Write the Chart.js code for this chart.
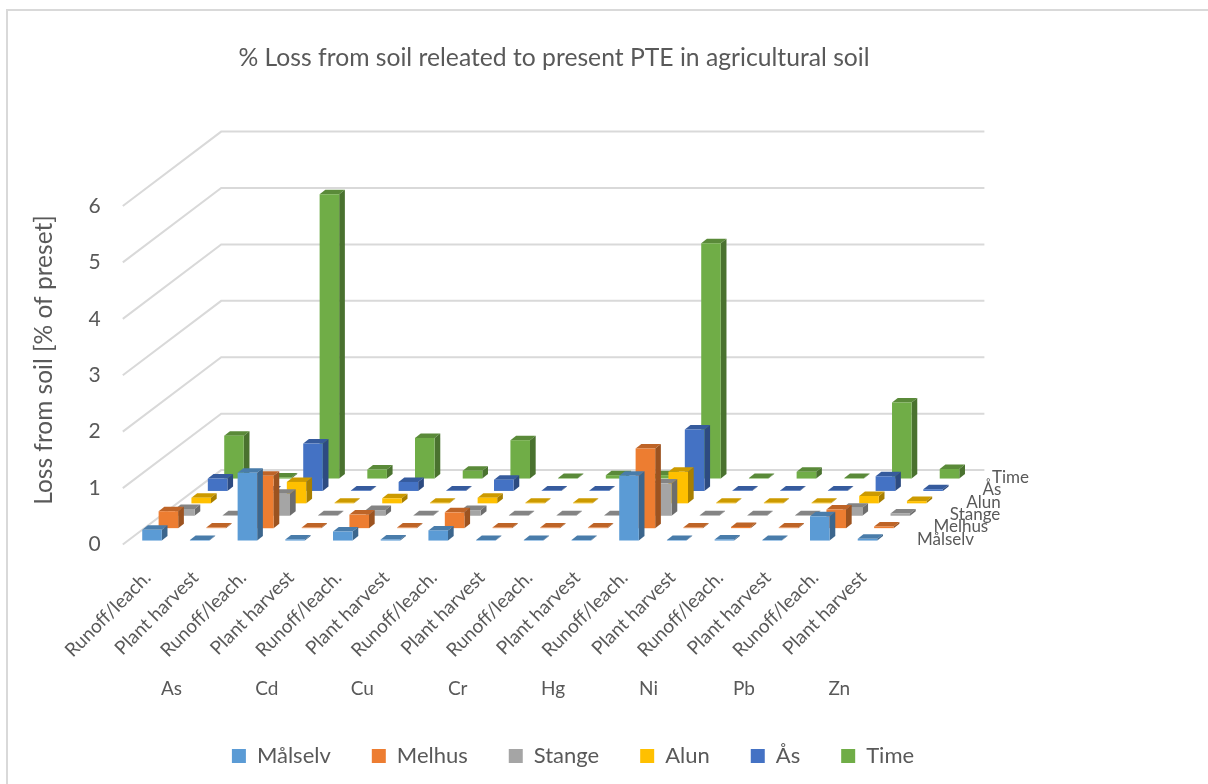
<!DOCTYPE html>
<html>
<head>
<meta charset="utf-8">
<title>Loss from soil</title>
<script src="https://cdn.jsdelivr.net/npm/chart.js@4"></script>
<style>
  html, body { margin: 0; background: #fff; }
  canvas { display: block; }
</style>
</head>
<body>
<canvas id="chart" width="1208" height="784"></canvas>
<script>
"use strict";

const categories = [
  "Runoff/leach.", "Plant harvest", "Runoff/leach.", "Plant harvest",
  "Runoff/leach.", "Plant harvest", "Runoff/leach.", "Plant harvest",
  "Runoff/leach.", "Plant harvest", "Runoff/leach.", "Plant harvest",
  "Runoff/leach.", "Plant harvest", "Runoff/leach.", "Plant harvest",
];
const elements = ["As", "Cd", "Cu", "Cr", "Hg", "Ni", "Pb", "Zn"];
const seriesNames = ["Målselv", "Melhus", "Stange", "Alun", "Ås", "Time"];
const seriesColors = ["#5B9BD5", "#ED7D31", "#A5A5A5", "#FFC000", "#4472C4", "#70AD47"];

const malselv = [0.19, 0.01, 1.2, 0.02, 0.16, 0.02, 0.18, 0.01, 0.01, 0.01, 1.15, 0.01, 0.02, 0.01, 0.43, 0.03];
const melhus = [0.3, 0.01, 0.93, 0.01, 0.24, 0.01, 0.28, 0.01, 0.01, 0.01, 1.41, 0.01, 0.02, 0.01, 0.33, 0.03];
const stange = [0.12, 0.01, 0.39, 0.01, 0.1, 0.01, 0.1, 0.01, 0.01, 0.01, 0.57, 0.01, 0.01, 0.01, 0.14, 0.04];
const alun = [0.1, 0.01, 0.38, 0.01, 0.09, 0.01, 0.1, 0.01, 0.01, 0.01, 0.56, 0.01, 0.01, 0.01, 0.13, 0.04];
const aas = [0.22, 0.01, 0.84, 0.01, 0.16, 0.01, 0.2, 0.01, 0.01, 0.01, 1.09, 0.01, 0.01, 0.01, 0.26, 0.03];
const time = [0.76, 0.02, 5.04, 0.16, 0.72, 0.14, 0.68, 0.01, 0.06, 0.06, 4.17, 0.01, 0.12, 0.01, 1.35, 0.17];
const seriesValues = [malselv, melhus, stange, alun, aas, time];

const FONT = "Lato, 'Open Sans', sans-serif";
const TEXT = "#595959";
const GRID = "#D9D9D9";

// oblique projection of the floor: total shift from front edge to back wall
const WALL_DX = 98.4;
const WALL_DY = -74.4;
const ROW_DX = WALL_DX / seriesNames.length;
const ROW_DY = WALL_DY / seriesNames.length;
const BAR_DX = 5.7;
const BAR_DY = -4.5;

function shade(hex, f) {
  const n = parseInt(hex.slice(1), 16);
  const c = [n >> 16, (n >> 8) & 255, n & 255].map((v) => Math.round(v * f));
  return `rgb(${c[0]},${c[1]},${c[2]})`;
}

function poly(ctx, color, pts) {
  ctx.fillStyle = color;
  ctx.beginPath();
  pts.forEach((p, i) => (i ? ctx.lineTo(p[0], p[1]) : ctx.moveTo(p[0], p[1])));
  ctx.closePath();
  ctx.fill();
}

// Bars keep the stock layout, each dataset is pushed back one row and drawn as a prism
class Bar3DController extends Chart.BarController {
  static id = "bar3d";
  static defaults = Chart.BarController.defaults;
  static overrides = Chart.BarController.overrides;

  draw() {
    const ctx = this.chart.ctx;
    const color = seriesColors[this.index];
    const dx = (this.index + 0.5) * ROW_DX - BAR_DX / 2;
    const dy = (this.index + 0.5) * ROW_DY - BAR_DY / 2;
    ctx.save();
    this._cachedMeta.data.forEach((bar) => {
      const l = bar.x - bar.width / 2 + dx;
      const r = bar.x + bar.width / 2 + dx;
      const t = bar.y + dy;
      const b = bar.base + dy;
      poly(ctx, shade(color, 0.8), [[l, t], [r, t], [r + BAR_DX, t + BAR_DY], [l + BAR_DX, t + BAR_DY]]);
      poly(ctx, shade(color, 0.66), [[r, t], [r + BAR_DX, t + BAR_DY], [r + BAR_DX, b + BAR_DY], [r, b]]);
      poly(ctx, color, [[l, t], [r, t], [r, b], [l, b]]);
    });
    ctx.restore();
  }
}
Chart.register(Bar3DController);

const scene = {
  id: "scene",
  afterLayout(chart) {
    // title and legend sit off the plot centre
    chart.titleBlock.left = 0;
    chart.titleBlock.right = 1108;
    chart.titleBlock.top = 46;
    chart.legend.left = 0;
    chart.legend.right = 1146;
    chart.legend.top = 745 - chart.legend.options.labels.padding;
  },
  beforeDatasetsDraw(chart) {
    const { ctx } = chart;
    const { x, y } = chart.scales;
    ctx.save();
    ctx.strokeStyle = GRID;
    ctx.lineWidth = 2;
    y.ticks.forEach((tick) => {
      const py = y.getPixelForValue(tick.value);
      ctx.beginPath();
      ctx.moveTo(x.left, py);
      ctx.lineTo(x.left + WALL_DX, py + WALL_DY);
      ctx.lineTo(x.right + WALL_DX, py + WALL_DY);
      ctx.stroke();
    });
    ctx.restore();
  },
  afterDraw(chart) {
    const { ctx } = chart;
    const { x, y } = chart.scales;
    ctx.save();
    // frame along the top and left
    ctx.strokeStyle = GRID;
    ctx.lineWidth = 2;
    ctx.beginPath();
    ctx.moveTo(7, 784);
    ctx.lineTo(7, 10);
    ctx.lineTo(1208, 10);
    ctx.stroke();

    ctx.fillStyle = TEXT;
    ctx.textBaseline = "middle";

    // depth axis names along the right edge of the floor
    ctx.textAlign = "left";
    ctx.font = "17px " + FONT;
    const base = y.getPixelForValue(0);
    seriesNames.forEach((name, row) => {
      const nudge = row === 5 ? -7 : 0;
      ctx.fillText(name, x.right + 31 + row * ROW_DX + nudge, base + (row + 0.5) * ROW_DY + 1);
    });

    // element names under each pair of categories
    ctx.textAlign = "center";
    ctx.font = "19px " + FONT;
    elements.forEach((name, i) => {
      ctx.fillText(name, x.getPixelForValue(i * 2 + 0.5) + 1, 689);
    });

    ctx.translate(44, 360);
    ctx.rotate(-Math.PI / 2);
    ctx.font = "24.5px " + FONT;
    ctx.fillText("Loss from soil [% of preset]", 0, 0);
    ctx.restore();
  },
};

new Chart(document.getElementById("chart"), {
  type: "bar3d",
  data: {
    labels: categories,
    datasets: seriesNames.map((name, i) => ({
      label: name,
      data: seriesValues[i],
      backgroundColor: seriesColors[i],
      grouped: false,
      barPercentage: 0.41,
      categoryPercentage: 1,
      clip: false,
    })),
  },
  options: {
    responsive: false,
    animation: false,
    layout: { padding: { left: 0, right: 322, top: 0, bottom: 0 } },
    plugins: {
      tooltip: { enabled: false },
      title: {
        display: true,
        text: "% Loss from soil releated to present PTE in agricultural soil",
        color: TEXT,
        font: { family: FONT, size: 24.7, weight: "normal", lineHeight: 1 },
        padding: { top: 0, bottom: 181.3 },
      },
      legend: {
        position: "bottom",
        labels: {
          color: TEXT,
          boxWidth: 14,
          boxHeight: 14,
          padding: 41,
          font: { family: FONT, size: 22 },
        },
      },
    },
    scales: {
      y: {
        min: 0,
        max: 6,
        grid: { display: false },
        border: { display: false },
        afterFit(scale) {
          scale.width = 122.8;
        },
        ticks: {
          stepSize: 1,
          color: TEXT,
          padding: 14,
          font: { family: FONT, size: 21 },
        },
      },
      x: {
        grid: { display: false },
        border: { display: false },
        afterFit(scale) {
          scale.height = 239.5 - scale.chart.legend.height;
        },
        ticks: {
          autoSkip: false,
          minRotation: 45,
          maxRotation: 45,
          padding: 14,
          labelOffset: 1,
          color: TEXT,
          font: { family: FONT, size: 19 },
        },
      },
    },
  },
  plugins: [scene],
});
</script>
</body>
</html>
